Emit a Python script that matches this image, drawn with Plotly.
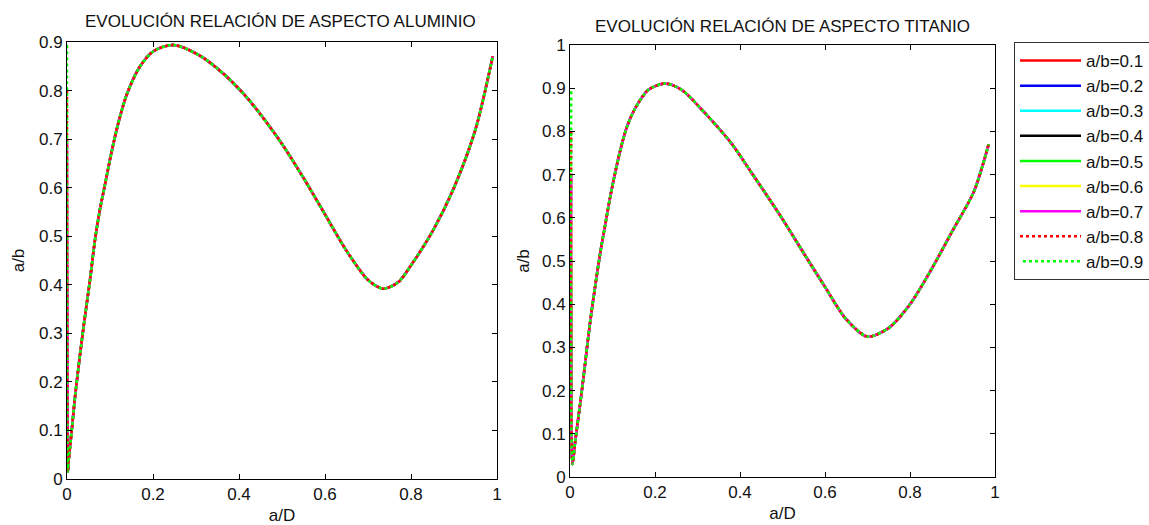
import plotly.graph_objects as go

# ---------------- data ----------------
series_names = ["a/b=0.1", "a/b=0.2", "a/b=0.3", "a/b=0.4", "a/b=0.5",
                "a/b=0.6", "a/b=0.7", "a/b=0.8", "a/b=0.9"]
initial_ab = [0.1, 0.2, 0.3, 0.4, 0.5, 0.6, 0.7, 0.8, 0.9]
colors = ["#FF0000", "#0000FF", "#00FFFF", "#000000", "#00FF00",
          "#FFFF00", "#FF00FF", "#FF0000", "#00FF00"]
dashes = ["solid"] * 7 + ["3px,3px", "0px,3px,3px,0px"]

# Aluminio: common evolution curve (a/D, a/b) after the first crack step
alu_aD = [0.002, 0.003, 0.011, 0.020, 0.038, 0.0535, 0.065, 0.077, 0.088, 0.104,
          0.119, 0.139, 0.170, 0.201, 0.247, 0.309, 0.371, 0.418, 0.449, 0.50,
          0.55, 0.60, 0.65, 0.70, 0.735, 0.77, 0.80, 0.85, 0.90, 0.95, 0.99]
alu_ab = [0.015, 0.030, 0.100, 0.180, 0.310, 0.410, 0.492, 0.557, 0.605, 0.675,
          0.732, 0.792, 0.850, 0.881, 0.894, 0.872, 0.829, 0.786, 0.752, 0.69,
          0.62, 0.545, 0.47, 0.41, 0.392, 0.405, 0.44, 0.51, 0.60, 0.72, 0.87]
alu_start_aD = 0.0

# Titanio: common evolution curve
ti_aD = [0.006, 0.012, 0.024, 0.031, 0.047, 0.059, 0.071, 0.082, 0.094, 0.106,
         0.118, 0.133, 0.153, 0.184, 0.224, 0.263, 0.318, 0.380, 0.428, 0.459,
         0.50, 0.55, 0.60, 0.65, 0.70, 0.75, 0.80, 0.85, 0.90, 0.95, 0.985]
ti_ab = [0.03, 0.080, 0.170, 0.225, 0.356, 0.440, 0.518, 0.579, 0.645, 0.703,
         0.755, 0.808, 0.853, 0.896, 0.911, 0.896, 0.842, 0.772, 0.703, 0.658,
         0.597, 0.518, 0.44, 0.365, 0.325, 0.345, 0.40, 0.48, 0.57, 0.66, 0.77]
ti_start_aD = 0.003

x_ticks = [0, 0.2, 0.4, 0.6, 0.8, 1]
y_ticks_alu = [0, 0.1, 0.2, 0.3, 0.4, 0.5, 0.6, 0.7, 0.8, 0.9]
y_ticks_ti = [0, 0.1, 0.2, 0.3, 0.4, 0.5, 0.6, 0.7, 0.8, 0.9, 1]

# ---------------- figure ----------------
W, H = 1149, 525
fig = go.Figure()

for i, name in enumerate(series_names):
    fig.add_trace(go.Scatter(
        x=[alu_start_aD] + alu_aD, y=[initial_ab[i]] + alu_ab,
        mode="lines", name=name, legendgroup=name, showlegend=True,
        line=dict(color=colors[i], width=2.5, dash=dashes[i], shape="spline", smoothing=0.8),
        xaxis="x", yaxis="y"))
for i, name in enumerate(series_names):
    fig.add_trace(go.Scatter(
        x=[ti_start_aD] + ti_aD, y=[initial_ab[i]] + ti_ab,
        mode="lines", name=name, legendgroup=name, showlegend=False,
        line=dict(color=colors[i], width=2.5, dash=dashes[i], shape="spline", smoothing=0.8),
        xaxis="x2", yaxis="y2"))

def px_x(p):
    return p / W

def px_y(p):
    return 1 - p / H

FAM = "Liberation Sans, Arial, sans-serif"
font = dict(family=FAM, size=17, color="#111111")

axis_common = dict(showgrid=False, zeroline=False, showline=True, linecolor="#000000",
                   linewidth=1, mirror="allticks", ticks="inside", ticklen=5,
                   tickcolor="#000000", tickfont=font, automargin=False)

fig.update_layout(
    width=W, height=H,
    margin=dict(l=0, r=0, t=0, b=0, autoexpand=False),
    paper_bgcolor="white", plot_bgcolor="white",
    font=font,
    xaxis=dict(domain=[px_x(67), px_x(497)], range=[0, 1], tickvals=x_ticks,
               anchor="y", title=dict(text="a/D", font=font, standoff=6), **axis_common),
    yaxis=dict(domain=[px_y(479), px_y(42)], range=[0, 0.9], tickvals=y_ticks_alu,
               anchor="x", title=dict(text="a/b", font=font, standoff=10), **axis_common),
    xaxis2=dict(domain=[px_x(570), px_x(995)], range=[0, 1], tickvals=x_ticks,
                anchor="y2", title=dict(text="a/D", font=font, standoff=5), **axis_common),
    yaxis2=dict(domain=[px_y(477), px_y(45)], range=[0, 1], tickvals=y_ticks_ti,
                anchor="x2", title=dict(text="a/b", font=font, standoff=8), **axis_common),
    legend=dict(x=px_x(1014), y=px_y(42), xanchor="left", yanchor="top",
                bordercolor="#333333", borderwidth=1, bgcolor="white",
                font=font, tracegroupgap=0, itemwidth=61),
    showlegend=True,
)

annotations = [
    dict(text="EVOLUCIÓN RELACIÓN DE ASPECTO ALUMINIO", x=px_x(280), y=px_y(21)),
    dict(text="EVOLUCIÓN RELACIÓN DE ASPECTO TITANIO", x=px_x(782), y=px_y(26)),
]
for a in annotations:
    a.update(xref="paper", yref="paper", showarrow=False, xanchor="center",
             yanchor="middle", font=font)
fig.update_layout(annotations=annotations)

fig.write_html("out.html")
